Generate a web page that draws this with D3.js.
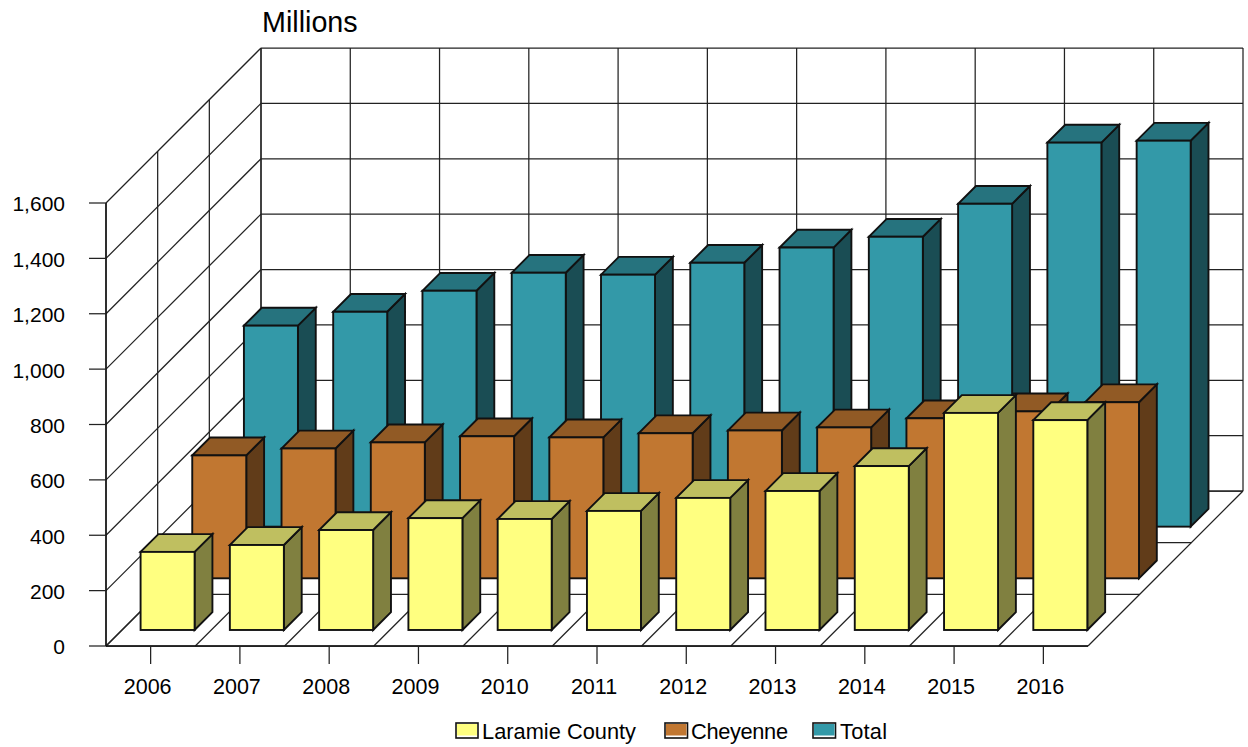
<!DOCTYPE html>
<html>
<head>
<meta charset="utf-8">
<script src="https://cdn.jsdelivr.net/npm/d3@7"></script>
<style>
body { margin: 0; background: #fff; }
svg { display: block; }
text { font-family: "Liberation Sans", Arial, sans-serif; fill: #000; }
</style>
</head>
<body>
<script>
const years = ["2006","2007","2008","2009","2010","2011","2012","2013","2014","2015","2016"];
const laramie = [282,307,361,404,401,430,477,502,592,784,758];
const cheyenne = [444,469,491,513,509,524,534,545,578,603,636];
const total = [726,776,852,917,910,953,1008,1047,1166,1387,1394];
const yTicks = [0,200,400,600,800,1000,1200,1400,1600];
const seriesNames = ["Laramie County","Cheyenne","Total"];
const seriesValues = [laramie,cheyenne,total];
const seriesColors = [
    {front:"#ffff80", top:"#bfbf60", side:"#808040"},
    {front:"#c17731", top:"#915a25", side:"#613c19"},
    {front:"#3399a8", top:"#26737e", side:"#1a4d54"}
];

const svg = d3.select("body").append("svg").attr("width",1248).attr("height",747);

// front plane scales, the depth goes up and to the right at 45 degrees
const x = d3.scaleBand().domain(years).range([106,1088]);
const y = d3.scaleLinear().domain([0,1600]).range([646,203]);
const depth = d3.scaleLinear().domain([0,3]).range([0,155]);
const barInset = 0.208; // share of a band left of the bar
const barWidth = 0.605; // share of a band taken by the bar
const barFront = 0.31;  // share of a depth row before the bar
const barDeep = 0.345;  // share of a depth row taken by the bar

const grid = svg.append("g").attr("fill","none").attr("stroke","#222").attr("stroke-width",1.25);
function gridLine(x1,y1,x2,y2){
    grid.append("line").attr("x1",x1).attr("y1",y1).attr("x2",x2).attr("y2",y2);
}
const maxD = depth(3);
// wall and left side, horizontal lines
yTicks.forEach(v=>{
    gridLine(106,y(v),106+maxD,y(v)-maxD);
    gridLine(106+maxD,y(v)-maxD,1088+maxD,y(v)-maxD);
});
// wall verticals and floor diagonals
d3.range(years.length+1).forEach(i=>{
    const px = 106 + i*x.bandwidth();
    gridLine(px,y(0),px+maxD,y(0)-maxD);
    gridLine(px+maxD,y(0)-maxD,px+maxD,y(1600)-maxD);
});
// left side verticals and floor cross lines
d3.range(4).forEach(k=>{
    const d = depth(k);
    gridLine(106+d,y(0)-d,106+d,y(1600)-d);
    gridLine(106+d,y(0)-d,1088+d,y(0)-d);
});

// back row first so the front rows cover it
const bars = svg.append("g").attr("stroke","#111").attr("stroke-width",1.9).attr("stroke-linejoin","miter");
[2,1,0].forEach(s=>{
    const c = seriesColors[s];
    const d0 = depth(s+barFront);
    const dd = depth(barDeep);
    years.forEach((yr,i)=>{
        const left = x(yr) + x.bandwidth()*barInset + d0;
        const right = left + x.bandwidth()*barWidth;
        const base = y(0) - d0;
        const top = y(seriesValues[s][i]) - d0;
        const g = bars.append("g");
        g.append("polygon").attr("fill",c.side)
            .attr("points",[[right,base],[right+dd,base-dd],[right+dd,top-dd],[right,top]].join(" "));
        g.append("polygon").attr("fill",c.top)
            .attr("points",[[left,top],[right,top],[right+dd,top-dd],[left+dd,top-dd]].join(" "));
        g.append("rect").attr("fill",c.front)
            .attr("x",left).attr("y",top).attr("width",right-left).attr("height",base-top);
    });
});

// axes
const yAxis = svg.append("g").attr("transform","translate(106,0)")
    .call(d3.axisLeft(y).tickValues(yTicks).tickFormat(d3.format(",")).tickSize(17).tickSizeOuter(0).tickPadding(24).offset(0));
const xAxis = svg.append("g").attr("transform","translate(0,646)")
    .call(d3.axisBottom(x).tickSize(18).tickSizeOuter(0).tickPadding(15).offset(0));
[yAxis,xAxis].forEach(a=>{
    a.select(".domain").attr("stroke","#111").attr("stroke-width",1.4);
    a.selectAll("line").attr("stroke","#222").attr("stroke-width",1.25);
    a.attr("font-family",null);
});
yAxis.selectAll("text").attr("font-size",21).attr("fill","#000").attr("dy","0.4em");
xAxis.selectAll("text").attr("font-size",21.5).attr("fill","#000").attr("dx",-3);

svg.append("text").attr("x",262).attr("y",32).attr("font-size",28.7).text("Millions");

// legend
const legendX = [456,665,813];
const legendLabelX = [482,691,840];
const legendLabelW = [154,97,47];
const legend = svg.append("g");
seriesNames.forEach((n,i)=>{
    const w = i==0 ? 22 : 22.5;
    legend.append("rect").attr("x",legendX[i]).attr("y",723).attr("width",w).attr("height",15)
        .attr("fill","#fff").attr("stroke","#111").attr("stroke-width",1.6);
    legend.append("rect").attr("x",legendX[i]+1).attr("y",724).attr("width",w-2).attr("height",11.5)
        .attr("fill",seriesColors[i].front);
    legend.append("text").attr("x",legendLabelX[i]).attr("y",738.5).attr("font-size",21.8)
        .attr("textLength",legendLabelW[i]).text(n);
});
</script>
</body>
</html>
